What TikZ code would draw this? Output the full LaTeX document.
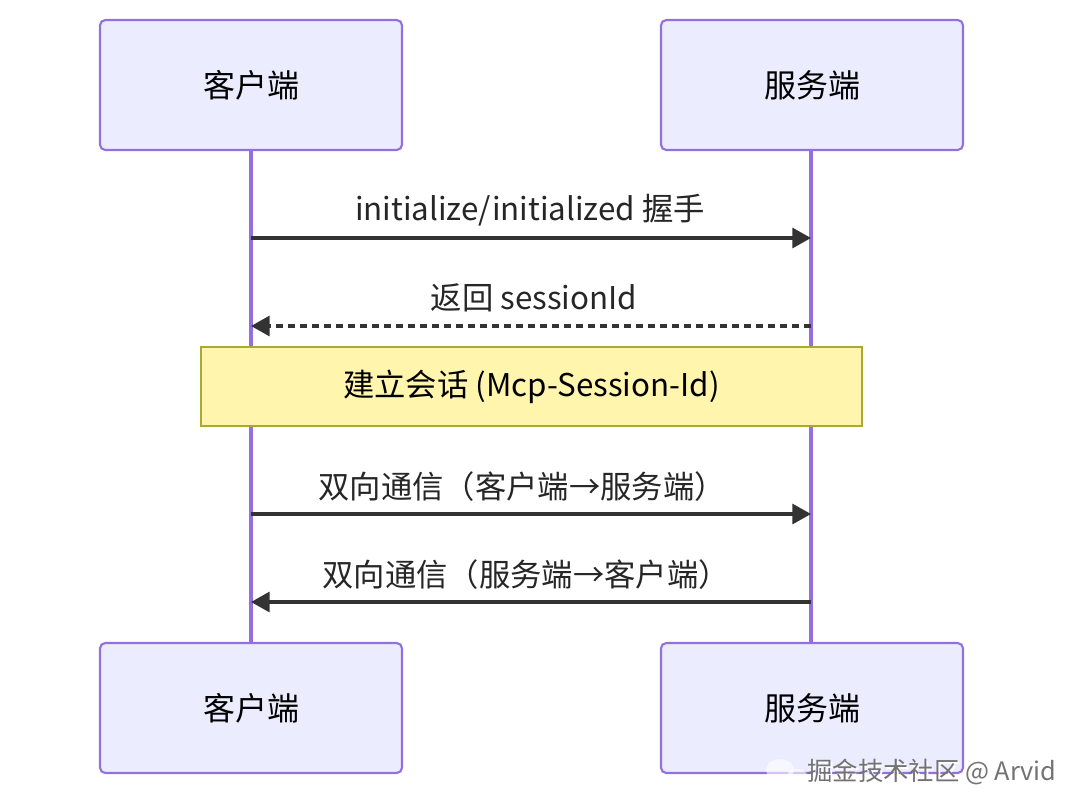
\documentclass[tikz,border=0pt]{standalone}
\usepackage{fontspec}
\setmainfont{Noto Sans CJK SC}
\usetikzlibrary{arrows.meta}
\definecolor{actfill}{HTML}{ECECFF}
\definecolor{actline}{HTML}{9370DB}
\definecolor{notefill}{HTML}{FFF5AD}
\definecolor{noteline}{HTML}{AAAA33}
\definecolor{msgline}{HTML}{333333}
\tikzset{
  actor/.style={draw=actline, fill=actfill, line width=1.6pt, rounded corners=4pt,
    minimum width=226.5pt, minimum height=97.5pt, inner sep=0pt, font=\fontsize{24}{28}\selectfont},
  lifeline/.style={draw=actline, line width=2.6pt},
  msg/.style={draw=msgline, line width=2.4pt, -{Triangle[length=14pt,width=15pt]}},
  reply/.style={msg, dash pattern=on 5pt off 4pt},
  msglabel/.style={font=\fontsize{23.5}{27}\selectfont, text=black!85, inner sep=0pt},
  notebox/.style={draw=noteline, fill=notefill, line width=1.2pt, minimum width=495.75pt,
    minimum height=59.25pt, inner sep=0pt, font=\fontsize{23.5}{27}\selectfont},
  wm/.style={font=\fontsize{19}{22}\selectfont, text=black!55, inner sep=0pt}
}
\begin{document}
\begin{tikzpicture}[x=0.75pt,y=-0.75pt]
\useasboundingbox[fill=white] (0,0) rectangle (1080,808);
% lifelines
\coordinate (c0) at (251,150); \coordinate (c1) at (251,643);
\coordinate (s0) at (811,150); \coordinate (s1) at (811,643);
\draw[lifeline] (c0) -- (c1);
\draw[lifeline] (s0) -- (s1);
% actors
\node[actor] (ct) at (251,85) {客户端};
\node[actor] (st) at (812,85) {服务端};
\node[actor] (cb) at (251,708) {客户端};
\node[actor] (sb) at (812,708) {服务端};
% messages
\coordinate (m1a) at (251,238); \coordinate (m1b) at (811,238);
\draw[msg] (m1a) -- (m1b);
\node[msglabel] (l1) at (530,210) {initialize/initialized 握手};
\coordinate (m2a) at (811,326); \coordinate (m2b) at (251,326);
\draw[reply] (m2a) -- (m2b);
\node[msglabel] (l2) at (534,298) {返回 sessionId};
% note
\node[notebox] (note) at (531.5,386.5) {建立会话 (Mcp-Session-Id)};
\coordinate (m3a) at (251,514); \coordinate (m3b) at (811,514);
\draw[msg] (m3a) -- (m3b);
\node[msglabel] (l3) at (522,487) {双向通信（客户端→服务端）};
\coordinate (m4a) at (811,602); \coordinate (m4b) at (251,602);
\draw[msg] (m4a) -- (m4b);
\node[msglabel] (l4) at (526,575) {双向通信（服务端→客户端）};
% watermark
\fill[white, opacity=0.6] (780,770) ellipse (14 and 11);
\fill[white, opacity=0.6] (797,778) ellipse (11 and 9);
\node[wm, text=white] (wms) at (934,774) {掘金技术社区 @ Arvid};
\node[wm] (wmt) at (932,772) {掘金技术社区 @ Arvid};
\end{tikzpicture}
\end{document}
